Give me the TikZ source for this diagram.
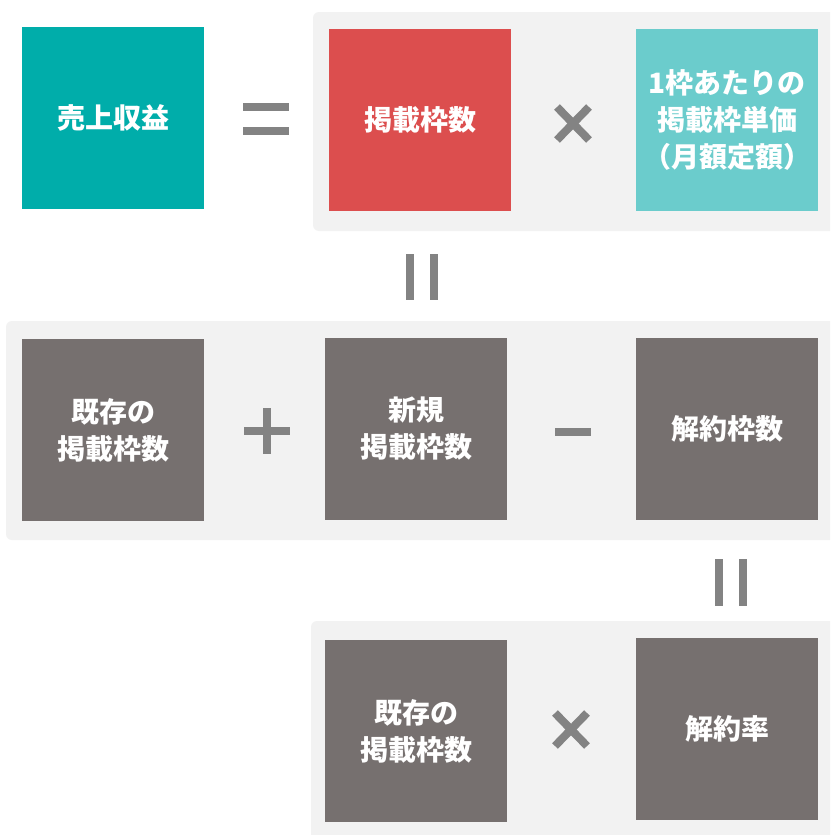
\documentclass[tikz,border=0pt]{standalone}
\usepackage{fontspec}
\newfontfamily\jp{Noto Sans CJK JP}
\definecolor{tealA}{HTML}{00ADAA}
\definecolor{redA}{HTML}{DC4E4E}
\definecolor{tealB}{HTML}{6BCCCC}
\definecolor{greyBox}{HTML}{76706F}
\definecolor{panelC}{HTML}{F2F2F2}
\definecolor{symC}{HTML}{838383}
\tikzset{
  box/.style={minimum width=182pt, minimum height=182pt, inner sep=0pt, text=white,
    font=\jp\bfseries\fontsize{28}{37}\selectfont, align=center},
  panel/.style={fill=panelC, rounded corners=6pt},
  sym/.style={fill=symC},
  xline/.style={draw=symC, line width=8pt}
}
\begin{document}
\begin{tikzpicture}[x=1pt,y=-1pt]
\clip (0,0) rectangle (830,835);
\fill[white] (0,0) rectangle (830,835);
% panels
\fill[panel] (313,12) rectangle (850,231);
\fill[panel] (6,321) rectangle (850,540);
\fill[panel] (311,621) rectangle (850,845);
% row 1
\node[box, fill=tealA] (rev) at (113,118) {売上収益};
\node[box, fill=redA] (slots) at (420,120) {掲載枠数};
\node[box, fill=tealB] (price) at (727,120) {1枠あたりの\\掲載枠単価\\（月額定額）};
% row 2
\node[box, fill=greyBox] (exist) at (113,430) {既存の\\掲載枠数};
\node[box, fill=greyBox] (new) at (416,429) {新規\\掲載枠数};
\node[box, fill=greyBox] (cancel) at (727,429) {解約枠数};
% row 3
\node[box, fill=greyBox] (exist2) at (416,731) {既存の\\掲載枠数};
\node[box, fill=greyBox] (rate) at (727,729) {解約率};
% equals (horizontal)
\fill[sym] (243,103) rectangle (289,111);
\fill[sym] (243,127) rectangle (289,135);
% times 1
\draw[xline] (557,107) -- (589,140);
\draw[xline] (557,140) -- (589,107);
% vertical equals 1
\fill[sym] (406,254) rectangle (414,300);
\fill[sym] (430,254) rectangle (438,300);
% plus
\fill[sym] (244,427) rectangle (290,435);
\fill[sym] (263,408) rectangle (271,454);
% minus
\fill[sym] (555,428) rectangle (591,436);
% vertical equals 2
\fill[sym] (715,559) rectangle (723,606);
\fill[sym] (739,559) rectangle (747,606);
% times 2
\draw[xline] (555,713) -- (587,746);
\draw[xline] (555,746) -- (587,713);
\end{tikzpicture}
\end{document}
